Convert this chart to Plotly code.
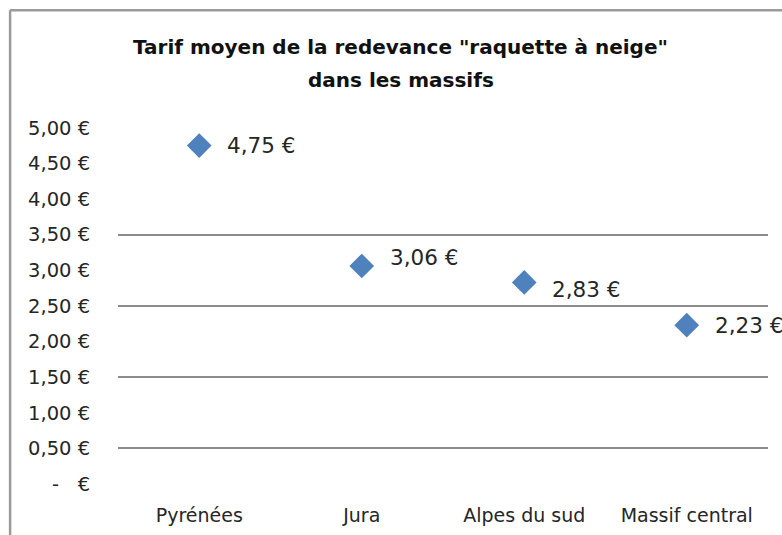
import plotly.graph_objects as go

categories = ["Pyrénées", "Jura", "Alpes du sud", "Massif central"]
values = [4.75, 3.06, 2.83, 2.23]
value_labels = ["4,75 €", "3,06 €", "2,83 €", "2,23 €"]
label_yshift = [0, 9, -7, 0]
tick_values = [0, 0.5, 1, 1.5, 2, 2.5, 3, 3.5, 4, 4.5, 5]
tick_labels = ["-   €", "0,50 €", "1,00 €", "1,50 €", "2,00 €", "2,50 €",
               "3,00 €", "3,50 €", "4,00 €", "4,50 €", "5,00 €"]
grid_values = [0.5, 1.5, 2.5, 3.5]
title_line1 = 'Tarif moyen de la redevance "raquette à neige"'
title_line2 = "dans les massifs"

FONT = "DejaVu Sans"
TXT = "#262626"

fig = go.Figure()
fig.add_trace(go.Scatter(
    x=categories, y=values, mode="markers",
    marker=dict(symbol="diamond", size=19, color="#4F81BD"),
    showlegend=False, hoverinfo="skip",
))

for c, v, t, ys in zip(categories, values, value_labels, label_yshift):
    fig.add_annotation(x=c, y=v, text=t, showarrow=False, xanchor="left",
                       xshift=26, yshift=ys,
                       font=dict(family=FONT, size=21.5, color=TXT))

fig.add_annotation(xref="paper", yref="paper", x=0.435, y=1.168, yanchor="middle",
                   text=title_line1, showarrow=False,
                   font=dict(family=FONT, size=20, color="#111", weight="bold"))
fig.add_annotation(xref="paper", yref="paper", x=0.435, y=1.080, yanchor="middle",
                   text=title_line2, showarrow=False,
                   font=dict(family=FONT, size=20, color="#111", weight="bold"))

# chart-area frame (top and left edges visible)
fig.add_shape(type="line", xref="paper", yref="paper", x0=-0.166, x1=1.05, y0=1.267, y1=1.267,
              line=dict(color="#9a9a9a", width=2.5))
fig.add_shape(type="line", xref="paper", yref="paper", x0=-0.166, x1=-0.166, y0=-0.2, y1=1.267,
              line=dict(color="#9a9a9a", width=2.5))

fig.update_layout(
    width=782, height=535,
    margin=dict(l=118, r=14, t=110, b=51),
    paper_bgcolor="white", plot_bgcolor="white",
    xaxis=dict(range=[-0.5, 3.5], showgrid=False, zeroline=False, showline=False,
               automargin=False,
               ticks="outside", ticklen=14, tickcolor="rgba(0,0,0,0)",
               tickfont=dict(family=FONT, size=19, color=TXT)),
    yaxis=dict(range=[0, 5.25], tickvals=tick_values, ticktext=tick_labels,
               showgrid=False, zeroline=False, showline=False, automargin=False,
               ticks="outside", ticklen=23, tickcolor="rgba(0,0,0,0)",
               tickfont=dict(family=FONT, size=19.5, color=TXT)),
    yaxis2=dict(range=[0, 5.25], overlaying="y", tickvals=grid_values, automargin=False,
                showticklabels=False, showgrid=True, gridcolor="#8c8c8c", gridwidth=1.5,
                zeroline=False, showline=False),
)
fig.add_trace(go.Scatter(x=[None], y=[None], yaxis="y2", showlegend=False, hoverinfo="skip"))

fig.write_html("out.html", config={"displayModeBar": False},
               post_script="document.body.style.margin='0';document.body.style.overflow='hidden';")
